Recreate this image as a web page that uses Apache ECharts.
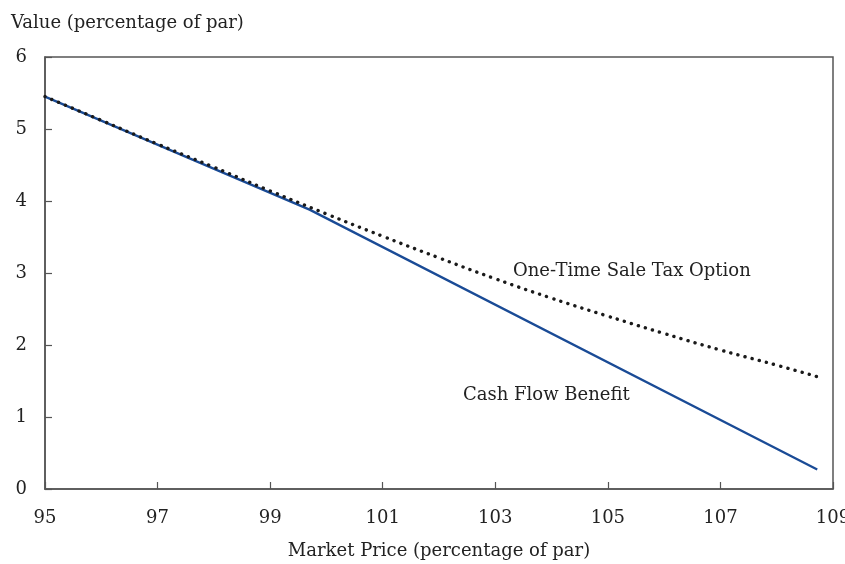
<!DOCTYPE html>
<html>
<head>
<meta charset="utf-8">
<script src="https://cdn.jsdelivr.net/npm/echarts@6/dist/echarts.min.js"></script>
<style>
  html, body { margin: 0; padding: 0; background: #fff; }
  #chart { width: 845px; height: 564px; }
</style>
</head>
<body>
<div id="chart"></div>
<script>
// market price, percentage of par
const cashFlowPrice = [95, 99.7, 108.72]
const cashFlowValue = [5.45, 3.88, 0.27]

const taxOptionPrice = [95, 96, 97, 98, 99, 100, 101, 102, 103, 104, 105, 106, 107, 108, 108.72]
const taxOptionValue = [5.45, 5.12, 4.79, 4.47, 4.14, 3.82, 3.51, 3.21, 2.92, 2.65, 2.40, 2.16, 1.93, 1.72, 1.56]

const xTicks = [95, 97, 99, 101, 103, 105, 107, 109]

const serif = 'DejaVu Serif'
const myChart = echarts.init(document.getElementById('chart'))

const options = {
  animation: false,
  backgroundColor: '#fff',
  textStyle: { fontFamily: serif },
  title: {
    text: 'Value (percentage of par)',
    left: 6,
    top: 9,
    textStyle: { fontFamily: serif, fontSize: 18, fontWeight: 'normal', color: '#222' }
  },
  grid: {
    left: 45,
    right: 12,
    top: 57,
    bottom: 75,
    outerBoundsMode: 'none',
    containLabel: false,
    show: true,
    borderColor: '#555',
    borderWidth: 1.5
  },
  xAxis: {
    type: 'value',
    min: xTicks[0],
    max: xTicks[xTicks.length - 1],
    interval: 2,
    name: 'Market Price (percentage of par)',
    nameLocation: 'middle',
    nameGap: 53,
    nameTextStyle: { fontFamily: serif, fontSize: 18, color: '#222' },
    axisLine: { lineStyle: { color: '#555', width: 1.5 } },
    axisTick: { inside: true, length: 7, lineStyle: { color: '#555', width: 1.2 } },
    axisLabel: { fontFamily: serif, fontSize: 18, color: '#222', margin: 20 },
    splitLine: { show: false }
  },
  yAxis: {
    type: 'value',
    min: 0,
    max: 6,
    interval: 1,
    axisLine: { show: true, lineStyle: { color: '#555', width: 1.5 } },
    axisTick: { show: true, inside: true, length: 7, lineStyle: { color: '#555', width: 1.2 } },
    axisLabel: { fontFamily: serif, fontSize: 18, color: '#222', margin: 18 },
    splitLine: { show: false }
  },
  graphic: [
    {
      type: 'text',
      left: 513,
      top: 262,
      style: { text: 'One-Time Sale Tax Option', font: '18px "DejaVu Serif"', fill: '#222' }
    },
    {
      type: 'text',
      left: 463,
      top: 386,
      style: { text: 'Cash Flow Benefit', font: '18px "DejaVu Serif"', fill: '#222' }
    }
  ],
  series: [
    {
      name: 'Cash Flow Benefit',
      type: 'line',
      data: cashFlowPrice.map((p, i) => [p, cashFlowValue[i]]),
      showSymbol: false,
      lineStyle: { color: '#1a4b96', width: 2.3 },
      z: 2
    },
    {
      name: 'One-Time Sale Tax Option',
      type: 'line',
      smooth: true,
      data: taxOptionPrice.map((p, i) => [p, taxOptionValue[i]]),
      showSymbol: false,
      lineStyle: { color: '#1a1a1a', width: 3.4, type: [0.1, 7.3], cap: 'round' },
      z: 3
    }
  ]
}

myChart.setOption(options)
</script>
</body>
</html>
